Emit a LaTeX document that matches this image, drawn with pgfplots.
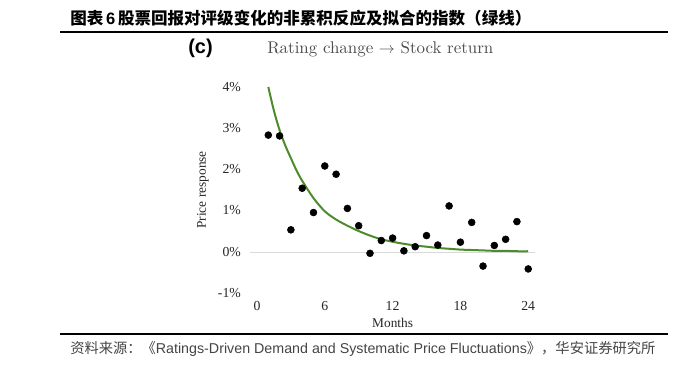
\documentclass[border=0pt]{standalone}
\usepackage{pgfplots}
\pgfplotsset{compat=1.18}
\usepackage{fontspec}
\setmainfont{Liberation Serif}
\newfontfamily\arial{Liberation Sans}
\newfontfamily\cjk{Noto Sans CJK SC}
\newfontfamily\lmr{lmroman10-regular.otf}
\definecolor{fitgreen}{HTML}{4C8C2B}
\definecolor{srcgray}{HTML}{444444}
\begin{document}
\begin{tikzpicture}
\begin{scope}[x=0.75pt,y=-0.75pt]
\useasboundingbox (0,0) rectangle (691,369);
\node[anchor=west,inner sep=0] at (70,18) {\fontsize{12.4}{14}\selectfont\cjk\bfseries 图表\,{\arial\bfseries 6}\,股票回报对评级变化的非累积反应及拟合的指数（绿线）};
\draw[line width=0.9pt] (60,32) -- (668,32);
\node[anchor=west,inner sep=0] at (188,48) {\fontsize{15}{17}\selectfont\arial\bfseries (c)};
\node[anchor=west,inner sep=0,text=black!70] at (267,49) {\fontsize{12.7}{14}\selectfont\lmr Rating change $\rightarrow$ Stock return};
\draw[line width=0.9pt] (60,334) -- (668,334);
\node[anchor=west,inner sep=0,text=srcgray] at (70,349) {\fontsize{10.7}{12}\selectfont\cjk 资料来源：《\arial Ratings-Driven Demand and Systematic Price Fluctuations\cjk 》，华安证券研究所};
\end{scope}
\begin{axis}[
  at={(187.65pt,-225.8pt)}, anchor=south west,
  scale only axis, width=213.6pt, height=166.8pt,
  xmin=-0.6, xmax=24.6, ymin=-1.2, ymax=4.2,
  axis line style={draw=none}, major tick length=0pt,
  xtick={0,6,12,18,24}, xticklabels={0,6,12,18,24},
  ytick={-1,0,1,2,3,4}, yticklabels={-1\%,0\%,1\%,2\%,3\%,4\%},
  ticklabel style={font=\fontsize{10.3}{12}\selectfont, text=black!85},
  xticklabel style={yshift=3pt},
  yticklabel style={xshift=-3.5pt},
  xlabel={Months}, ylabel={Price response},
  xlabel style={yshift=1.5pt},
  label style={font=\fontsize{10}{12}\selectfont, text=black!85},
  clip=false,
]
\addplot[very thin, black!15] coordinates {(-0.6,0) (24.6,0)};
\addplot[fitgreen, line width=1.5pt, smooth] coordinates {
(1,4.00) (1.5,3.42) (2,2.95) (2.5,2.58) (3,2.27) (3.5,1.97) (4,1.72) (5,1.30) (6,0.98) (7,0.78) (8,0.63) (9,0.50) (10,0.39) (11,0.30) (12,0.24) (13,0.19) (14,0.15) (15,0.12) (16,0.09) (17,0.07) (18,0.05) (19,0.04) (20,0.03) (21,0.02) (22,0.02) (23,0.01) (24,0.01)};
\addplot[only marks, mark=*, mark size=2.6pt, black] coordinates {
(1,2.83) (2,2.81) (3,0.53) (4,1.54) (5,0.95) (6,2.08) (7,1.88) (8,1.05) (9,0.63) (10,-0.04) (11,0.27) (12,0.33) (13,0.02) (14,0.12) (15,0.39) (16,0.16) (17,1.11) (18,0.23) (19,0.71) (20,-0.35) (21,0.15) (22,0.30) (23,0.73) (24,-0.42)};
\end{axis}
\end{tikzpicture}
\end{document}
